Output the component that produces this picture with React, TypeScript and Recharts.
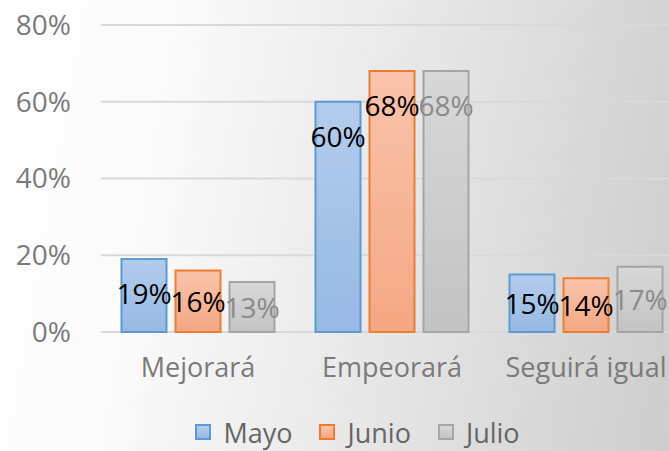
import { BarChart, Bar, XAxis, YAxis, CartesianGrid, Legend, LabelList } from "recharts";

const categorias = ["Mejorará", "Empeorará", "Seguirá igual"];
const mayo = [19, 60, 15];
const junio = [16, 68, 14];
const julio = [13, 68, 17];
const yTicks = [0, 20, 40, 60, 80];

const series = [
  { key: "Mayo", stroke: "#5b9bd5", top: "#b3ccec", bottom: "#97b9e4", label: "#000000" },
  { key: "Junio", stroke: "#ed7d31", top: "#f9c4ab", bottom: "#f4a783", label: "#000000" },
  { key: "Julio", stroke: "#a5a5a5", top: "#d8d8d8", bottom: "#c3c3c3", label: "#8a8a8a" },
];

const data = categorias.map((c, i) => ({
  name: c,
  Mayo: mayo[i],
  Junio: junio[i],
  Julio: julio[i],
}));

const FONT = "'Open Sans', sans-serif";

function makeLabel(color: string) {
  return (props: any) => {
    const { x, y, width, height, value } = props;
    const cy = Math.min(y + height / 2, y + 34);
    return (
      <text
        x={x + width / 2}
        y={cy}
        textAnchor="middle"
        dominantBaseline="central"
        fill={color}
        fontSize={28}
        fontFamily={FONT}
      >
        {value}%
      </text>
    );
  };
}

const renderLegend = () => (
  <div
    style={{
      display: "flex",
      justifyContent: "center",
      alignItems: "center",
      gap: 27,
      height: 30,
      fontFamily: FONT,
      fontSize: 27,
      lineHeight: 1,
      color: "#666666",
      paddingLeft: 46,
    }}
  >
    {series.map((s) => (
      <div key={s.key} style={{ display: "flex", alignItems: "center", gap: 12 }}>
        <span
          style={{
            display: "inline-block",
            width: 12,
            height: 12,
            border: `2px solid ${s.stroke}`,
            background: `linear-gradient(${s.top}, ${s.bottom})`,
          }}
        />
        <span style={{ lineHeight: 1 }}>{s.key}</span>
      </div>
    ))}
  </div>
);

export default function App() {
  return (
    <div
      style={{
        position: "absolute",
        left: 0,
        top: 0,
        width: 669,
        height: 451,
        overflow: "hidden",
        background: "linear-gradient(100deg, #ffffff 0%, #fafafa 25%, #e6e6e6 60%, #cdcdcd 100%)",
      }}
    >
      <BarChart
        width={700}
        height={451}
        data={data}
        margin={{ top: 25, right: 17, bottom: 4, left: 0 }}
        barCategoryGap={20.5}
        barGap={9}
      >
        <defs>
          {series.map((s) => (
            <linearGradient key={s.key} id={`grad-${s.key}`} x1="0" y1="0" x2="0" y2="1">
              <stop offset="0%" stopColor={s.top} />
              <stop offset="100%" stopColor={s.bottom} />
            </linearGradient>
          ))}
        </defs>
        <CartesianGrid vertical={false} stroke="#d9d9d9" strokeWidth={2} />
        <XAxis
          dataKey="name"
          axisLine={false}
          tickLine={false}
          height={85}
          tickMargin={20}
          tick={{ fill: "#7a7a7a", fontSize: 27, fontFamily: FONT }}
          interval={0}
        />
        <YAxis
          domain={[0, 80]}
          ticks={yTicks}
          width={101}
          axisLine={false}
          tickLine={false}
          tickMargin={24}
          tickFormatter={(v) => `${v}%`}
          tick={{ fill: "#7a7a7a", fontSize: 28, fontFamily: FONT }}
        />
        <Legend verticalAlign="bottom" content={renderLegend} wrapperStyle={{ width: 669, left: 0, height: 30 }} />
        {series.map((s) => (
          <Bar
            key={s.key}
            dataKey={s.key}
            fill={`url(#grad-${s.key})`}
            stroke={s.stroke}
            strokeWidth={2}
            isAnimationActive={false}
          >
            <LabelList dataKey={s.key} content={makeLabel(s.label)} />
          </Bar>
        ))}
      </BarChart>
    </div>
  );
}
